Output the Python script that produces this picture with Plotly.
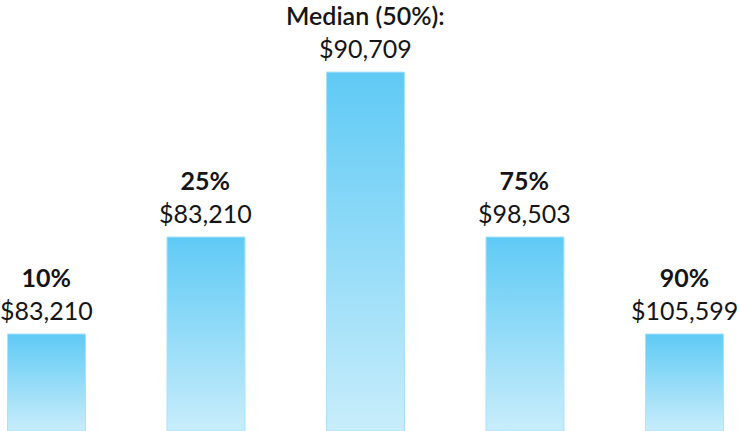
import plotly.graph_objects as go

# Data
percentiles = ["10%", "25%", "Median (50%):", "75%", "90%"]
salaries = ["$83,210", "$83,210", "$90,709", "$98,503", "$105,599"]
bar_heights = [1.0, 2.0, 3.7, 2.0, 1.0]

half_w = 0.2445
fig = go.Figure()

for i, (h, pct, sal) in enumerate(zip(bar_heights, percentiles, salaries)):
    # each bar is a filled polygon so it can carry a vertical gradient
    fig.add_trace(go.Scatter(
        x=[i - half_w, i + half_w, i + half_w, i - half_w, i - half_w],
        y=[0, 0, h, h, 0],
        mode="lines",
        fill="toself",
        fillgradient=dict(type="vertical",
                          colorscale=[[0, "#c8edfb"], [1, "#5fcaf5"]]),
        line=dict(color="#a9e3fa", width=1),
        hoverinfo="skip",
        showlegend=False,
    ))
    weight = 600 if i == 2 else 700
    fig.add_annotation(
        x=i, y=h, xref="x", yref="y",
        text=f"<span style='font-weight:{weight}'>{pct}</span><br>{sal}",
        showarrow=False, yanchor="bottom", yshift=7,
        font=dict(family="Lato, sans-serif", size=25, color="#151515"),
    )

fig.update_layout(
    width=739, height=431,
    margin=dict(l=0, r=0, t=0, b=0),
    paper_bgcolor="white", plot_bgcolor="white",
    xaxis=dict(range=[-0.2915, 4.342], visible=False, fixedrange=True),
    yaxis=dict(range=[0, 4.443], visible=False, fixedrange=True),
)

fig.write_html("out.html", config={"displayModeBar": False},
               post_script="document.body.style.margin='0';")
